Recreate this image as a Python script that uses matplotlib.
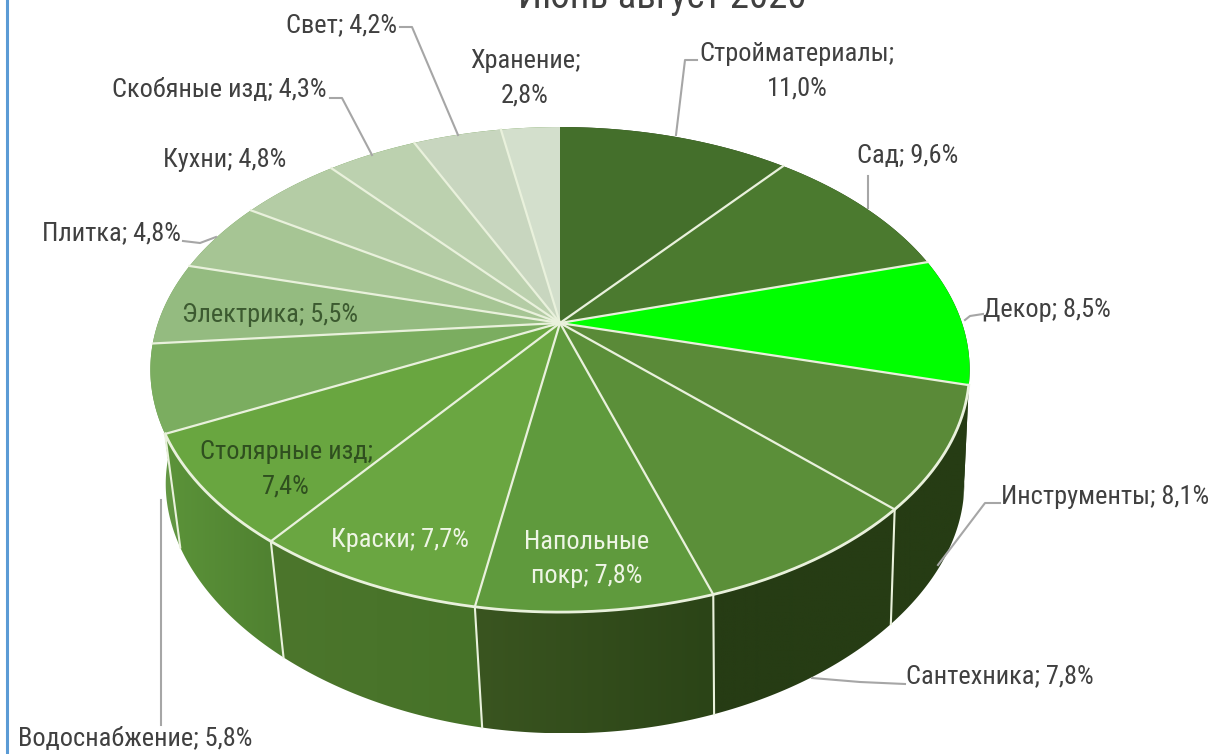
import matplotlib
matplotlib.use('Agg')
import matplotlib.pyplot as plt
import numpy as np
from matplotlib.patches import Polygon
from matplotlib.colors import to_rgb

plt.rcParams['font.family'] = ['Roboto Condensed', 'Roboto', 'DejaVu Sans']

# ── Data ───────────────────────────────────────────────────────────────
TITLE = "Июнь-август 2020"
categories = ["Стройматериалы", "Сад", "Декор", "Инструменты", "Сантехника",
              "Напольные покр", "Краски", "Столярные изд", "Водоснабжение",
              "Электрика", "Плитка", "Кухни", "Скобяные изд", "Свет", "Хранение"]
shares = [11.0, 9.6, 8.5, 8.1, 7.8, 7.8, 7.7, 7.4, 5.8, 5.5, 4.8, 4.8, 4.3, 4.2, 2.8]
top_colors = ["#446f2b", "#4b7a2f", "#00ff00", "#5a8a38", "#5b8f39", "#5f9a3d",
              "#6aa641", "#69a640", "#7bad60", "#94bb80", "#a6c594", "#b4cca5",
              "#bcd1af", "#c8d6bf", "#d3dfcc"]
side_left = ["#263c14", "#263c14", "#263c14", "#263c14", "#263c14", "#3a5520",
             "#4c762c", "#5b9339", "#6a9c4a", "#6a9c4a", "#6a9c4a", "#6a9c4a",
             "#6a9c4a", "#6a9c4a", "#6a9c4a"]
side_right = ["#263c14", "#263c14", "#263c14", "#263c14", "#263c14", "#2b4417",
              "#467228", "#4f8030", "#5f9440", "#6a9c4a", "#6a9c4a", "#6a9c4a",
              "#6a9c4a", "#6a9c4a", "#6a9c4a"]

# text, centre x, centre y, colour
labels = [
    ("Стройматериалы;\n11,0%", 797, 71, "#404040"),
    ("Сад; 9,6%", 908, 156, "#404040"),
    ("Декор; 8,5%", 1047, 310, "#404040"),
    ("Инструменты; 8,1%", 1105, 497, "#404040"),
    ("Сантехника; 7,8%", 1000, 676, "#404040"),
    ("Напольные\nпокр; 7,8%", 587, 559, "#eef5e5"),
    ("Краски; 7,7%", 400, 540, "#eef5e5"),
    ("Столярные изд;\n7,4%", 286, 469, "#2f4f1f"),
    ("Водоснабжение; 5,8%", 135, 739, "#404040"),
    ("Электрика; 5,5%", 270, 315, "#3c5a30"),
    ("Плитка; 4,8%", 111, 233, "#404040"),
    ("Кухни; 4,8%", 225, 160, "#404040"),
    ("Скобяные изд; 4,3%", 219, 90, "#404040"),
    ("Свет; 4,2%", 341, 25, "#404040"),
    ("Хранение;\n2,8%", 525, 78, "#404040"),
]
leaders = [
    ([697, 685, 676], [60, 60, 135]),
    ([868, 868], [176, 208]),
    ([983, 970, 965], [314, 316, 320]),
    ([1000, 985, 938], [503, 503, 565]),
    ([905, 860, 812], [684, 682, 678]),
    ([161, 161], [725, 500]),
    ([183, 200, 216], [241, 243, 237]),
    ([330, 342, 372], [98, 98, 155]),
    ([400, 412, 458], [27, 27, 135]),
]

# pie projection, in picture pixels
TOP = dict(cx=560, cy=323, a=402, b=233.6, kx=0.192, ky=0.192)
BOTTOM = dict(cx=565, cy=440, a=392, b=220, kx=0.19, ky=0.25)


def project(theta, plane):
    """theta runs clockwise from 12 o'clock, in radians."""
    x, y = np.sin(theta), np.cos(theta)
    return (plane['cx'] + plane['a'] * x / (1 + plane['kx'] * y),
            plane['cy'] - plane['b'] * y / (1 + plane['ky'] * y))


fig = plt.figure(figsize=(12.14, 7.54), dpi=100)
ax = fig.add_axes([0, 0, 1, 1])
ax.axis('off')

edges = np.cumsum([0] + shares) / sum(shares) * 2 * np.pi
LINE = "#e9f1dc"

# ── Sides ──────────────────────────────────────────────────────────────
order = np.argsort(np.cos((edges[:-1] + edges[1:]) / 2))[::-1]
for i in order:
    th = np.linspace(edges[i], edges[i + 1], 60)
    xt, yt = project(th, TOP)
    xb, yb = project(th, BOTTOM)
    pts = np.column_stack([np.r_[xt, xb[::-1]], np.r_[yt, yb[::-1]]])
    ramp = np.linspace(0, 1, 64)[None, :, None]
    grad = (1 - ramp) * np.array(to_rgb(side_left[i])) + ramp * np.array(to_rgb(side_right[i]))
    im = ax.imshow(grad, extent=[pts[:, 0].min(), pts[:, 0].max(), pts[:, 1].max(), pts[:, 1].min()],
                   aspect='auto', interpolation='bilinear', zorder=1)
    poly = Polygon(pts, closed=True, transform=ax.transData, fc='none', ec='none')
    ax.add_patch(poly)
    im.set_clip_path(poly)

for e in edges[:-1]:
    if np.cos(e) < -0.4:
        xt, yt = project(e, TOP)
        xb, yb = project(e, BOTTOM)
        ax.plot([xt, xb], [yt, yb], color=LINE, lw=1.5, zorder=2)

# ── Top face ───────────────────────────────────────────────────────────
apex = (TOP['cx'], TOP['cy'])
for i in range(len(shares)):
    th = np.linspace(edges[i], edges[i + 1], 60)
    xt, yt = project(th, TOP)
    pts = np.column_stack([np.r_[apex[0], xt], np.r_[apex[1], yt]])
    ax.add_patch(Polygon(pts, closed=True, fc=top_colors[i], ec='none', zorder=3))

for e in edges[1:-1]:
    xt, yt = project(e, TOP)
    ax.plot([apex[0], xt], [apex[1], yt], color=LINE, lw=1.6, zorder=4)

th = np.linspace(edges[3], edges[8], 200)
xt, yt = project(th, TOP)
ax.plot(xt, yt, color=LINE, lw=2, zorder=4)

# ── Labels ─────────────────────────────────────────────────────────────
for xs, ys in leaders:
    ax.plot(xs, ys, color="#a6a6a6", lw=1.5, zorder=2.5 if xs[0] in (1000, 905) else 5)

for text, x, y, color in labels:
    ax.text(x, y, text, ha='center', va='center', fontsize=19, color=color,
            linespacing=1.55, zorder=6)

ax.text(662, 8, TITLE, ha='center', va='baseline', fontsize=28, color="#404040", zorder=6)
ax.plot([7, 7], [0, 754], color="#5b9bd5", lw=2.2, zorder=6)

ax.set_xlim(0, 1214)
ax.set_ylim(754, 0)
fig.savefig("out.png", dpi=100, facecolor='white')
